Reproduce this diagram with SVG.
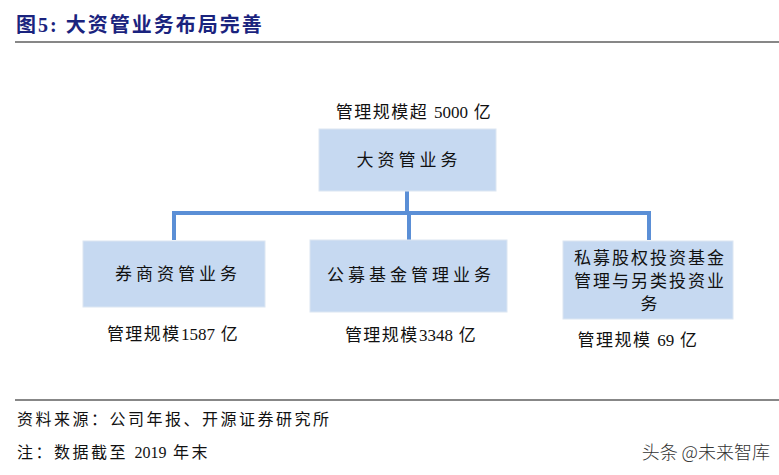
<svg xmlns="http://www.w3.org/2000/svg" width="779" height="475" viewBox="0 0 779 475">
<style>
.t{font-family:"Liberation Serif","Noto Sans CJK SC",serif;fill:#111}
.box{fill:#C6D9F1;stroke:#DCE6F2;stroke-width:1}
.bt{font-size:17px;text-anchor:middle;letter-spacing:4px}
.lb{font-size:17px;text-anchor:middle;letter-spacing:1.5px}
.ft{font-size:16px;letter-spacing:2.5px}
.n{letter-spacing:0}
.conn{stroke:#5B8FD6;stroke-width:4;fill:none}
</style>
<rect width="779" height="475" fill="#fff"/>
<text x="16" y="32" class="t" style="font-size:20px;font-weight:bold;fill:#1A237E;letter-spacing:2px">图5:  大资管业务布局完善</text>
<line x1="15" y1="42" x2="779" y2="42" stroke="#111" stroke-width="1.2"/>
<g id="connectors">
<path class="conn" d="M407 191V213M174 213H649M174 211V240M409 211V240M649 211V240"/>
</g>
<g id="top">
<text x="414" y="118" class="t lb">管理规模超 <tspan class="n">5000</tspan> 亿</text>
<rect class="box" x="319" y="129" width="177" height="62"/>
<text x="409" y="166" class="t bt">大资管业务</text>
</g>
<g id="left">
<rect class="box" x="83" y="241" width="182" height="66"/>
<text x="178" y="280" class="t bt">券商资管业务</text>
<text x="173" y="340" class="t lb">管理规模<tspan class="n">1587</tspan> 亿</text>
</g>
<g id="mid">
<rect class="box" x="310" y="240" width="197" height="72"/>
<text x="411" y="281" class="t bt">公募基金管理业务</text>
<text x="411" y="341" class="t lb">管理规模<tspan class="n">3348</tspan> 亿</text>
</g>
<g id="right">
<rect class="box" x="563" y="241" width="170" height="78"/>
<text x="650" y="264" class="t bt" style="letter-spacing:2px">私募股权投资基金</text>
<text x="650" y="287" class="t bt" style="letter-spacing:2px">管理与另类投资业</text>
<text x="650" y="310" class="t bt" style="letter-spacing:2px">务</text>
<text x="638" y="346" class="t lb">管理规模 <tspan class="n">69</tspan> 亿</text>
</g>
<line x1="15" y1="400" x2="779" y2="400" stroke="#111" stroke-width="1.2"/>
<text x="17" y="425" class="t ft">资料来源：公司年报、开源证券研究所</text>
<text x="17" y="458" class="t ft">注：数据截至 <tspan class="n">2019</tspan> 年末</text>
<text x="770" y="459" style="font-family:'Noto Sans CJK SC',sans-serif;font-size:18px;font-weight:300;fill:#333;text-anchor:end">头条 @未来智库</text>
</svg>
